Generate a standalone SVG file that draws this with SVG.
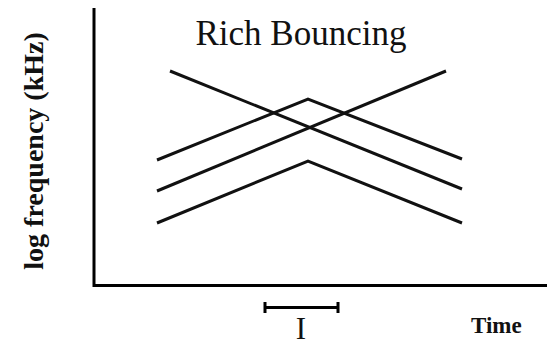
<svg xmlns="http://www.w3.org/2000/svg" width="547" height="345" viewBox="0 0 547 345">
<style>
.ln{fill:none;stroke:#111;stroke-width:3;stroke-linejoin:miter;stroke-linecap:butt}
.ax{fill:none;stroke:#000;stroke-width:3}
.t{font-family:"Liberation Serif","Times New Roman",serif;fill:#111}
</style>
<rect width="547" height="345" fill="#fff"/>
<g id="axes">
<path class="ax" d="M94,8 V285.5 H547"/>
</g>
<g id="title"><text class="t" x="301" y="45" font-size="35" text-anchor="middle">Rich Bouncing</text></g>
<g id="ylabel"><text class="t" font-weight="bold" font-size="28" text-anchor="middle" transform="translate(43,151) rotate(-90)">log frequency (kHz)</text></g>
<g id="xlabel"><text class="t" font-weight="bold" font-size="23" x="471" y="333">Time</text></g>
<g id="connectors">
<path class="ln" d="M170,71 L462,189"/>
<path class="ln" d="M157,191 L446,71"/>
<path class="ln" d="M157,160 L308,99 L462,159"/>
<path class="ln" d="M157,223 L308,161 L462,223"/>
</g>
<g id="scalebar">
<path class="ax" stroke-width="2.5" d="M265,307.5 H338"/>
<path class="ax" d="M265,302 V313 M338,302 V313"/>
<text class="t" x="301" y="339" font-size="31" text-anchor="middle">I</text>
</g>
</svg>
